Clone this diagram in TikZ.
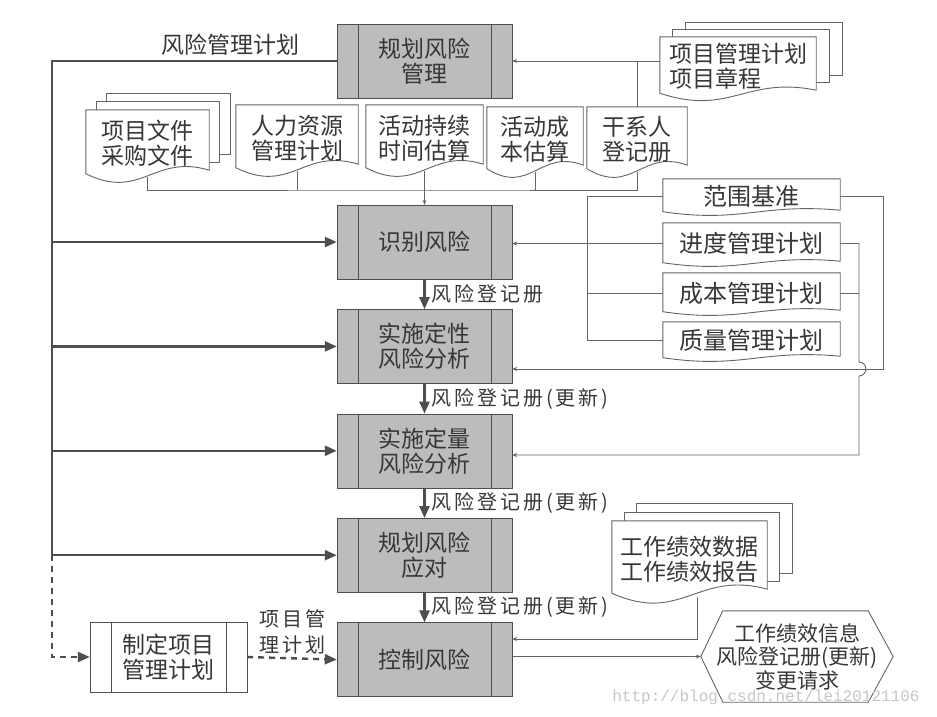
\documentclass[tikz,border=0pt]{standalone}
\usepackage{fontspec}
\setmainfont{Noto Sans CJK SC}
\newfontfamily\lblfont[LetterSpace=15]{Noto Sans CJK SC}
\newfontfamily\urlfont{Liberation Mono}
\usetikzlibrary{arrows.meta,positioning,calc}
\pgfdeclarelayer{background}
\pgfdeclarelayer{paper}
\pgfsetlayers{background,paper,main}
\definecolor{boxgray}{RGB}{188,188,188}
\definecolor{linegray}{RGB}{78,78,78}
\definecolor{thingray}{RGB}{100,100,100}
\definecolor{inkgray}{RGB}{55,55,55}

\newcommand{\docframe}[2][14pt]{%
  \draw[docline, fill=white] (#2.north west) -- (#2.north east)
    -- ([yshift=0.5*#1]#2.south east)
    .. controls ($(#2.south west)!.55!(#2.south east)+(0,1.7*#1)$)
       and ($(#2.south west)!.45!(#2.south east)+(0,-1.7*#1)$)
    .. ([yshift=0.25*#1]#2.south west) -- cycle;}
\newcommand{\backpages}[3]{%
  \foreach \k in {2,1}{
    \draw[docline, fill=white] ([shift={(\k*#2,\k*#3)}]#1.north west)
      rectangle ([shift={(\k*#2,\k*#3+7pt)}]#1.south east);}}

\begin{document}
\begin{tikzpicture}[
  x=1pt, y=-1pt,
  font=\fontsize{23}{25}\selectfont,
  text=inkgray,
  node distance=30pt,
  procbox/.style={
    draw=linegray,
    fill=boxgray,
    minimum width=175pt,
    minimum height=74pt,
    inner sep=2pt,
    align=center,
    path picture={
      \draw[linegray] ([xshift=21pt]path picture bounding box.north west) -- ([xshift=21pt]path picture bounding box.south west);
      \draw[linegray] ([xshift=-21pt]path picture bounding box.north east) -- ([xshift=-21pt]path picture bounding box.south east);
    }
  },
  planbox/.style={procbox, fill=white, minimum width=157pt, minimum height=70pt},
  docnode/.style={inner sep=0pt, align=center},
  plandoc/.style={docnode, minimum width=177pt, font=\fontsize{24}{26}\selectfont},
  docline/.style={line width=0.9pt, draw=thingray},
  busline/.style={line width=2.4pt, draw=linegray},
  busarrow/.style={busline, -{Triangle[length=12pt,width=10pt]}},
  dashbus/.style={busarrow, dash pattern=on 6pt off 5pt},
  thinline/.style={line width=0.9pt, draw=thingray},
  thinarrow/.style={thinline, -{Stealth[length=5pt,width=4pt]}},
  reglabel/.style={font=\lblfont\fontsize{20}{26}\selectfont, right, xshift=2pt}
]
\useasboundingbox (0,0) rectangle (937,716);

\node[procbox] (plan) at (424.5,61) {规划风险\\管理};
\node[procbox] (ident) at (424.5,242) {识别风险};
\node[procbox, below=of ident] (qualit) {实施定性\\风险分析};
\node[procbox, below=of qualit] (quant) {实施定量\\风险分析};
\node[procbox, below=of quant] (respond) {规划风险\\应对};
\node[procbox, below=of respond] (control) {控制风险};
\node[planbox] (develop) at (168.5,657) {制定项目\\管理计划};

\node[docnode, minimum width=123pt, minimum height=67pt] (projdocs) at (147.5,143.5) {项目文件\\采购文件};
\node[docnode, minimum width=122pt, minimum height=66pt] (hrplan) at (297,138) {人力资源\\管理计划};
\node[docnode, minimum width=117pt, minimum height=66pt] (durest) at (424.5,138) {活动持续\\时间估算};
\node[docnode, minimum width=96pt, minimum height=65pt] (costest) at (535,139.5) {活动成\\本估算};
\node[docnode, minimum width=100pt, minimum height=65pt] (stakereg) at (637,139.5) {干系人\\登记册};
\node[docnode, align=left, minimum width=156pt, minimum height=59pt] (pmplan) at (738,66.5) {项目管理计划\\项目章程};

\node[plandoc, minimum height=34pt] (scope) at (751.5,196) {范围基准};
\node[plandoc, minimum height=41pt] (sched) at (751.5,243.5) {进度管理计划};
\node[plandoc, minimum height=40pt] (costplan) at (751.5,293) {成本管理计划};
\node[plandoc, minimum height=37pt] (qualplan) at (751.5,340.5) {质量管理计划};

\node[docnode, minimum width=155pt, minimum height=76pt] (workdata) at (689.5,559) {工作绩效数据\\工作绩效报告};
\node[docnode, minimum width=192pt, minimum height=91pt, font=\fontsize{21}{23.5}\selectfont] (outputs) at (797,656.5) {工作绩效信息\\风险登记册(更新)\\变更请求};

\begin{pgfonlayer}{paper}
\backpages{projdocs}{10.5pt}{8pt}
\docframe{projdocs}
\docframe{hrplan}
\docframe{durest}
\docframe{costest}
\docframe{stakereg}
\backpages{pmplan}{13pt}{7pt}
\docframe[12pt]{pmplan}
\foreach \n in {scope,sched,costplan,qualplan}
  \docframe[6pt]{\n};
\backpages{workdata}{12.5pt}{8.5pt}
\docframe[16pt]{workdata}
\draw[docline, fill=white] (outputs.west) -- ([xshift=22pt]outputs.north west) -- ([xshift=-25pt]outputs.north east)
  -- (outputs.east) -- ([xshift=-25pt]outputs.south east) -- ([xshift=22pt]outputs.south west) -- cycle;
\end{pgfonlayer}

\begin{pgfonlayer}{background}
\coordinate (collect) at (424.5,190);
\draw[thinline] (projdocs.south) |- (collect) -| (stakereg.south);
\draw[thinline] (hrplan.south) -- (hrplan.south |- collect);
\draw[thinline] (costest.south) -- (costest.south |- collect);
\draw[thinarrow] (durest.south) -- (ident.north);
\draw[thinarrow] (pmplan.west |- plan.east) -- (plan.east);
\draw[thinline] (stakereg.north) -- (stakereg.north |- plan.east);

\coordinate (brk) at (587,196);
\draw[thinline] (scope.west) -- (brk) |- (qualplan.west);
\draw[thinline] (costplan.west) -- (costplan.west -| brk);
\draw[thinarrow] (sched.west) -- (sched.west -| ident.east);
\coordinate (scopeturn) at (883,369);
\draw[thinarrow] (scope.east) -| (scopeturn) -- (scopeturn -| qualit.east);
\coordinate (hop) at (859,369);
\coordinate (schedturn) at (859,455);
\draw[thinarrow] (sched.east) -| ([yshift=7pt]hop) arc[start angle=90, end angle=-90, radius=7pt]
  -- (schedturn) -- (schedturn -| quant.east);
\draw[thinline] (costplan.east) -- (costplan.east -| hop);

\coordinate (wpturn) at (697,639);
\draw[thinarrow] (wpturn |- workdata.south) -- (wpturn) -- (wpturn -| control.east);
\draw[thinarrow] (control.east |- outputs.west) -- (outputs.west);
\end{pgfonlayer}

\coordinate (bus) at (52,61);
\draw[busline] (plan.west) -- node[pos=0.375, above, yshift=1pt] {风险管理计划} (bus) -- (bus |- respond.west);
\foreach \b in {ident,qualit,quant,respond}
  \draw[busarrow] (bus |- \b.west) -- (\b.west);
\draw[dashbus] (bus |- respond.west) |- (develop.west);
\draw[dashbus] (develop.east) -- node[above, align=center, font=\lblfont\fontsize{20}{26}\selectfont] {项目管\\理计划} (control.west);

\draw[busarrow] (ident.south) -- node[reglabel] {风险登记册} (qualit.north);
\draw[busarrow] (qualit.south) -- node[reglabel] {风险登记册(更新)} (quant.north);
\draw[busarrow] (quant.south) -- node[reglabel] {风险登记册(更新)} (respond.north);
\draw[busarrow] (respond.south) -- node[reglabel] {风险登记册(更新)} (control.north);

\node[font=\urlfont\fontsize{16}{18}\selectfont, text=gray!45] (mark) at (766,697) {http://blog.csdn.net/lei20121106};
\end{tikzpicture}
\end{document}
